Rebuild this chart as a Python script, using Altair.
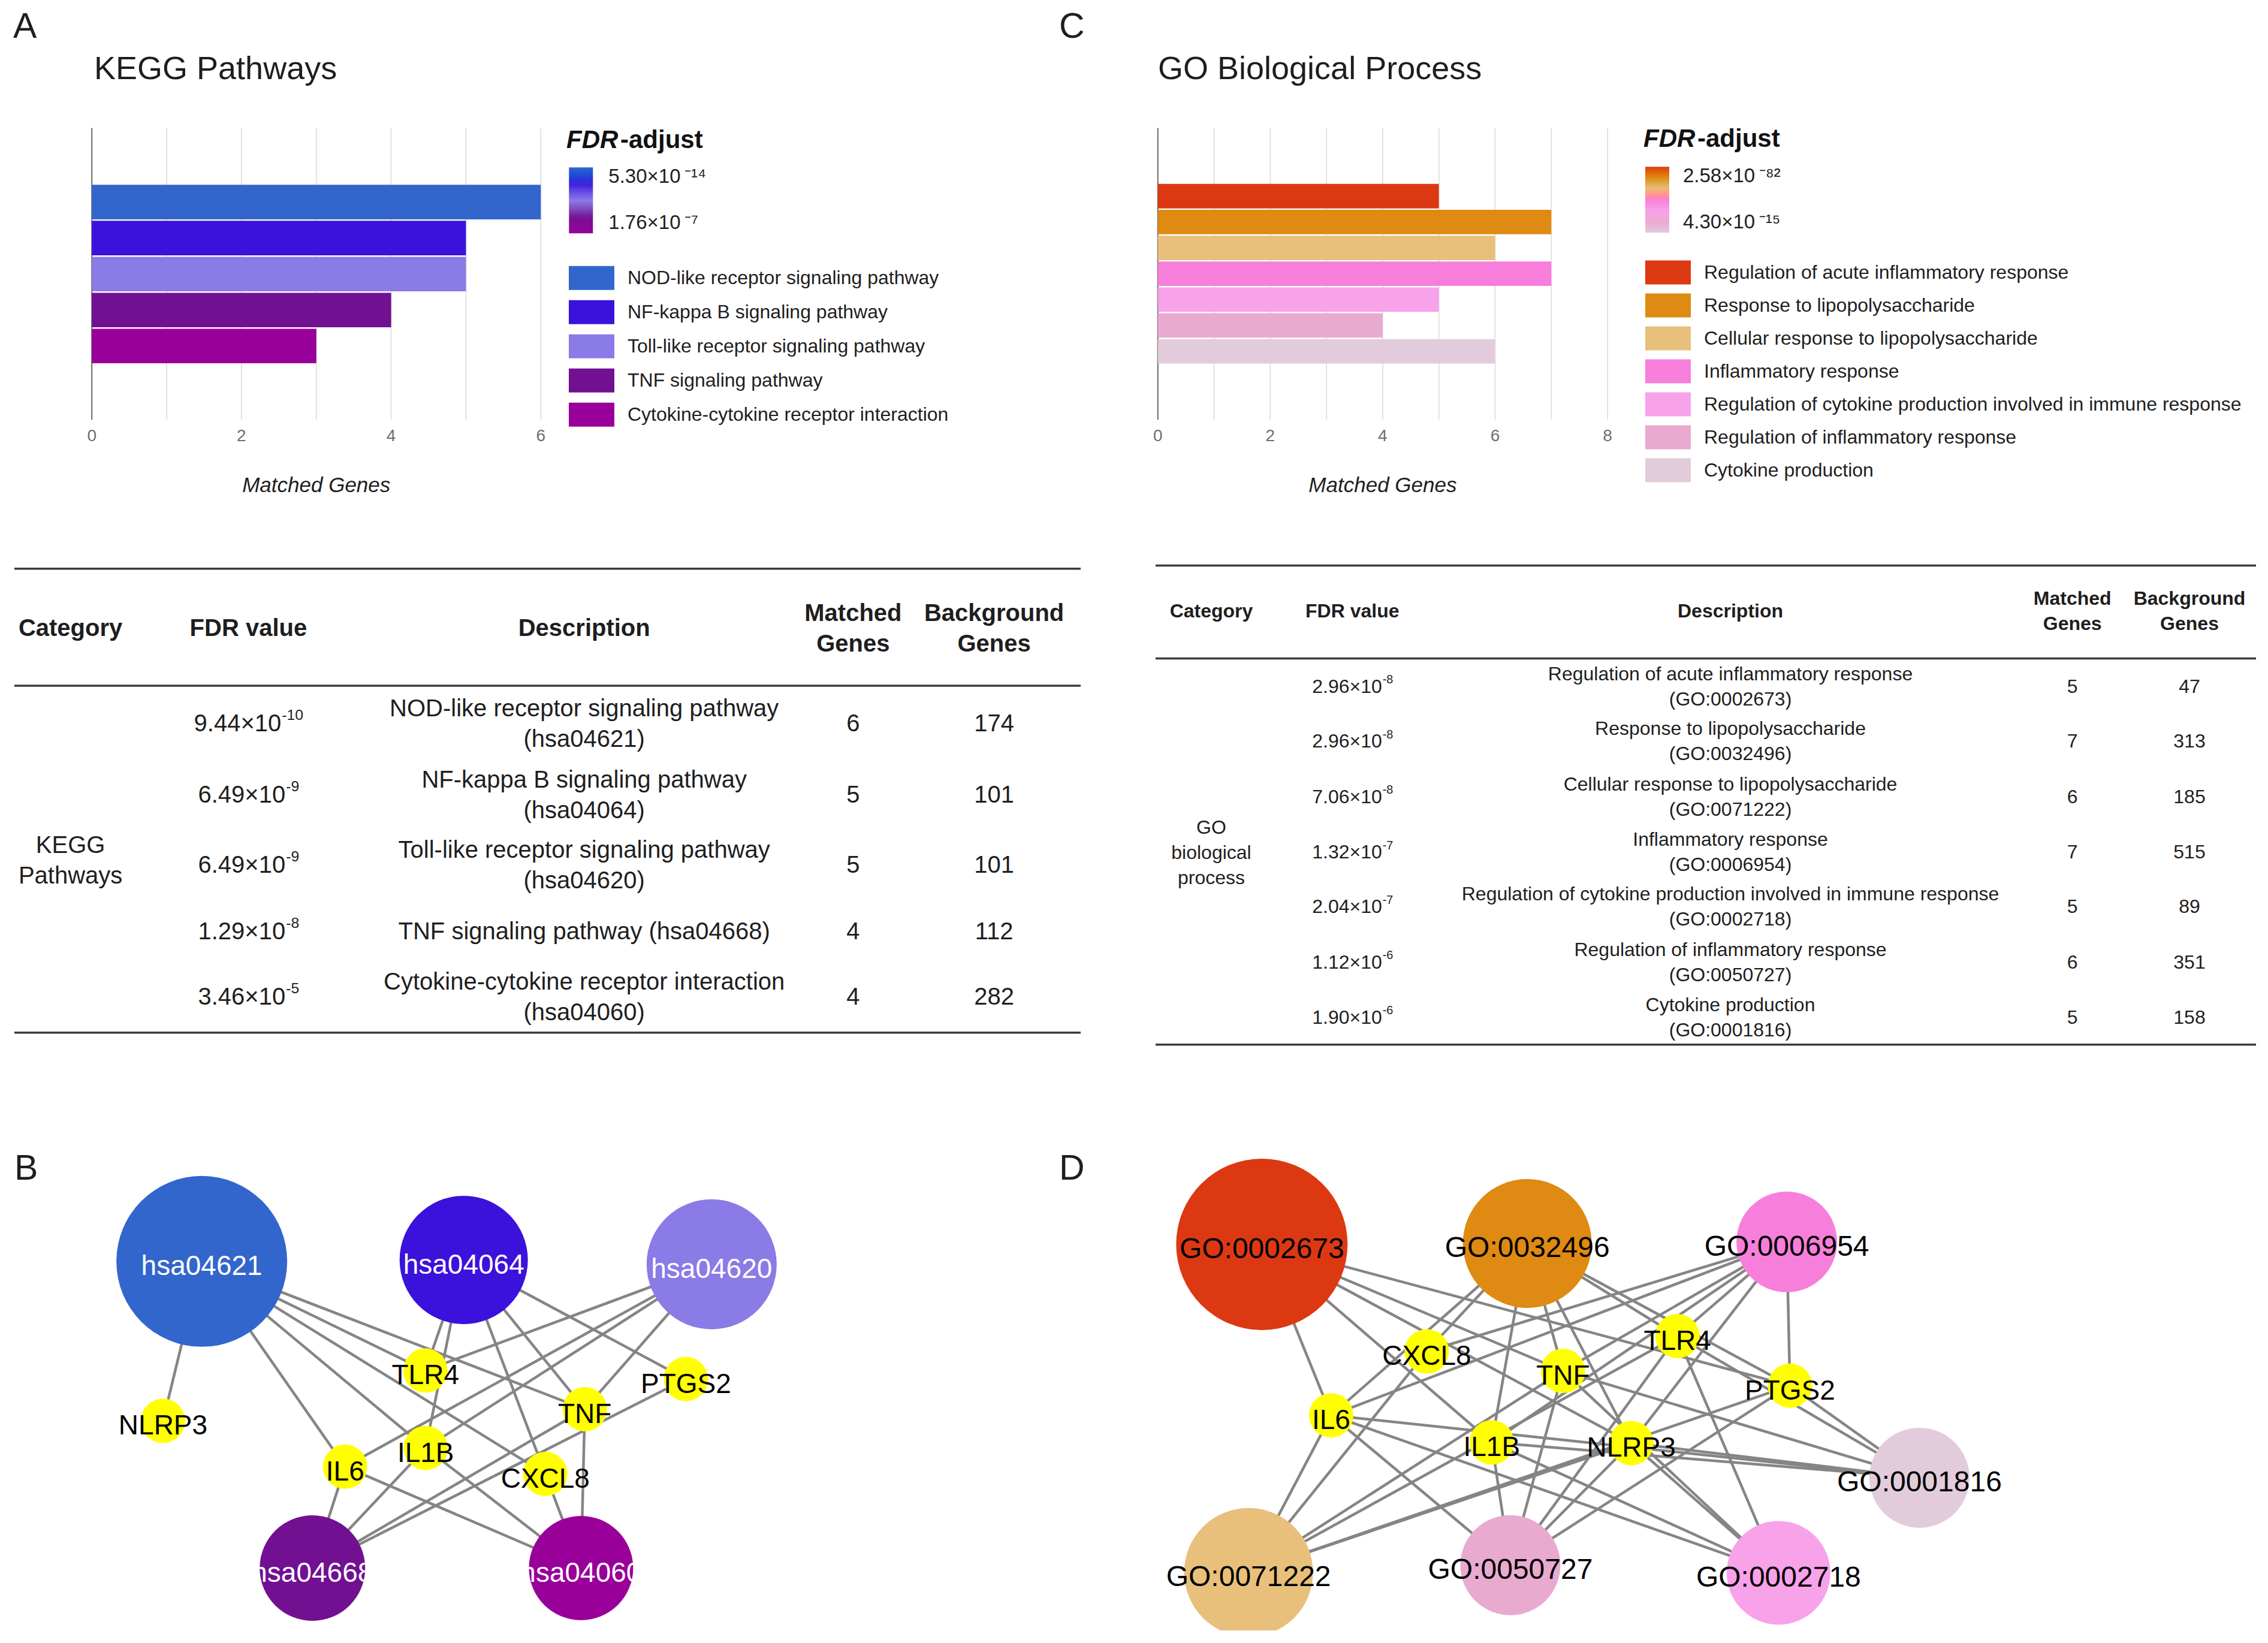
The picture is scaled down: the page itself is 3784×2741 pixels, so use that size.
import numpy as np
import pandas as pd
import altair as alt

# ============================ DATA ============================
kegg_names = ["NOD-like receptor signaling pathway", "NF-kappa B signaling pathway",
              "Toll-like receptor signaling pathway", "TNF signaling pathway",
              "Cytokine-cytokine receptor interaction"]
kegg_ids = ["hsa04621", "hsa04064", "hsa04620", "hsa04668", "hsa04060"]
kegg_bar_genes = [6, 5, 5, 4, 3]
kegg_fdr = [9.44e-10, 6.49e-9, 6.49e-9, 1.29e-8, 3.46e-5]
kegg_matched = [6, 5, 5, 4, 4]
kegg_background = [174, 101, 101, 112, 282]
kegg_fdr_adjust = [5.30e-14, 1.76e-7]
kegg_colors = ["#3366CC", "#3B12DC", "#8A7BE6", "#721092", "#990099"]
kegg_grid = [0, 1, 2, 3, 4, 5, 6]
kegg_ticks = [0, 2, 4, 6]

go_names = ["Regulation of acute inflammatory response", "Response to lipopolysaccharide",
            "Cellular response to lipopolysaccharide", "Inflammatory response",
            "Regulation of cytokine production involved in immune response",
            "Regulation of inflammatory response", "Cytokine production"]
go_ids = ["GO:0002673", "GO:0032496", "GO:0071222", "GO:0006954",
          "GO:0002718", "GO:0050727", "GO:0001816"]
go_bar_genes = [5, 7, 6, 7, 5, 4, 6]
go_fdr = [2.96e-8, 2.96e-8, 7.06e-8, 1.32e-7, 2.04e-7, 1.12e-6, 1.90e-6]
go_matched = [5, 7, 6, 7, 5, 6, 5]
go_background = [47, 313, 185, 515, 89, 351, 158]
go_fdr_adjust = [2.58e-82, 4.30e-15]
go_colors = ["#DC3912", "#DF8A12", "#E8C07C", "#F77FDB", "#F8A2EA", "#E9AAD0", "#E2CCDC"]
go_grid = [0, 1, 2, 3, 4, 5, 6, 7, 8]
go_ticks = [0, 2, 4, 6, 8]

genes = ["NLRP3", "TLR4", "IL1B", "IL6", "TNF", "CXCL8", "PTGS2"]
kegg_gene_sets = {
    "hsa04621": ["NLRP3", "TLR4", "TNF", "CXCL8", "IL1B", "IL6"],
    "hsa04064": ["TLR4", "IL1B", "CXCL8", "TNF", "PTGS2"],
    "hsa04620": ["TLR4", "IL6", "IL1B", "TNF"],
    "hsa04668": ["IL6", "IL1B", "TNF", "PTGS2"],
    "hsa04060": ["IL6", "IL1B", "CXCL8", "TNF"],
}
go_gene_sets = {
    "GO:0002673": ["IL6", "IL1B", "TNF", "PTGS2", "NLRP3"],
    "GO:0032496": ["CXCL8", "IL6", "IL1B", "TNF", "TLR4", "PTGS2", "NLRP3"],
    "GO:0071222": ["IL6", "CXCL8", "TNF", "TLR4", "PTGS2", "NLRP3"],
    "GO:0006954": ["CXCL8", "IL6", "IL1B", "TNF", "TLR4", "PTGS2", "NLRP3"],
    "GO:0002718": ["IL6", "IL1B", "TNF", "TLR4", "NLRP3"],
    "GO:0050727": ["IL6", "IL1B", "TNF", "TLR4", "NLRP3", "PTGS2"],
    "GO:0001816": ["IL6", "IL1B", "TNF", "TLR4", "PTGS2", "NLRP3"],
}
# network layouts (layout units, y downwards)
kegg_net_xy = {
    "hsa04621": (139.5, 92), "hsa04064": (320.6, 91), "hsa04620": (492, 94),
    "hsa04668": (216, 304), "hsa04060": (401.7, 304),
    "NLRP3": (112.7, 202.2), "TLR4": (294.1, 167.4), "IL1B": (294.3, 221),
    "IL6": (238.6, 233.9), "TNF": (404.3, 194.2), "CXCL8": (377, 238.9), "PTGS2": (474.2, 173.3),
}
go_net_xy = {
    "GO:0002673": (122.4, 80.2), "GO:0032496": (305.9, 79.6), "GO:0006954": (485.3, 78.5),
    "GO:0001816": (577, 241.6), "GO:0071222": (113.2, 307), "GO:0050727": (294.2, 302),
    "GO:0002718": (479.6, 307.3),
    "CXCL8": (236.4, 154.2), "TLR4": (409.7, 143.6), "TNF": (330.6, 167.7), "PTGS2": (487.5, 177.9),
    "IL6": (170.3, 198.4), "IL1B": (281.3, 217.1), "NLRP3": (377.8, 217.6),
}

# ============================ STYLE / LAYOUT ============================
W, H = 3760, 2712
S = 3784 / 1568
FONT = "Liberation Sans"
INK = "#1e1e1e"
GENE_COLOR = "#FFFF00"
EDGE_COLOR = "#858585"
kegg_node_diam = {"hsa04621": 285, "hsa04064": 214, "hsa04620": 217, "hsa04668": 176, "hsa04060": 174}
go_node_diam = {"GO:0002673": 286, "GO:0032496": 215, "GO:0006954": 168, "GO:0001816": 167,
                "GO:0071222": 215, "GO:0050727": 167, "GO:0002718": 173}
GENE_DIAM = 74
CHAR_W = {".": 0.278, "\u00d7": 0.584, "-": 0.333}


def P(d):
    return d * S - 8


PX = alt.Scale(domain=[0, 3784], range=[-8, 3776])
PY = alt.Scale(domain=[0, 2741], range=[-8, 2733])

SUP = str.maketrans("-0123456789", "\u207b\u2070\u00b9\u00b2\u00b3\u2074\u2075\u2076\u2077\u2078\u2079")


def split_sci(v):
    m, e = f"{v:.2e}".split("e")
    return f"{m}\u00d710", str(int(e))


def sci(v, sep=""):
    b, e = split_sci(v)
    return f"{b}{sep}{e.translate(SUP)}"


def text_w(s, fs):
    return fs * sum(CHAR_W.get(c, 0.556) for c in s)


def text_layer(df, **mark):
    return alt.Chart(df).mark_text(font=FONT, lineBreak="\n", **mark).encode(
        x=alt.X("px:Q", scale=PX, axis=None),
        y=alt.Y("py:Q", scale=PY, axis=None),
        text=alt.Text("t:N"),
    )


def centred(t, y, lh):
    return y - (t.count("\n")) * lh / 2


# ---------------- page annotations ----------------
letters = pd.DataFrame({"t": ["A", "C", "B", "D"], "px": [22, 1767, 24, 1767], "py": [63, 63, 1968, 1968]})
titles = pd.DataFrame({"t": ["KEGG Pathways", "GO Biological Process"], "px": [157, 1932], "py": [132, 132]})
fdr_it = pd.DataFrame({"t": ["FDR", "FDR"], "px": [945, 2742], "py": [247, 245]})
fdr_adj = pd.DataFrame({"t": ["-adjust", "-adjust"], "px": [1035, 2832], "py": [247, 245]})

page_layers = [
    text_layer(letters, align="left", baseline="alphabetic", fontSize=59, color=INK),
    text_layer(titles, align="left", baseline="alphabetic", fontSize=54, color=INK),
    text_layer(fdr_it, align="left", baseline="alphabetic", fontSize=42, fontWeight="bold",
               fontStyle="italic", color="#111111"),
    text_layer(fdr_adj, align="left", baseline="alphabetic", fontSize=42, fontWeight="bold", color="#111111"),
]

# ---------------- tables ----------------
HEAD = ["Category", "FDR value", "Description", "Matched\nGenes", "Background\nGenes"]


def table(names, ids, fdr, matched, background, cat_label, col_x, head_y, row_y, cat_y,
          rules_y, rule_x, fs, lh, single_max):
    head = pd.DataFrame({"t": HEAD, "px": col_x, "py": [centred(t, head_y, lh) for t in HEAD]})
    rows, bases, exps = [], [], []
    efs = 0.62 * fs
    for i, (n, gid) in enumerate(zip(names, ids)):
        desc = f"{n} ({gid})" if len(n) + len(gid) <= single_max else f"{n}\n({gid})"
        for c, t in zip([2, 3, 4], [desc, str(matched[i]), str(background[i])]):
            rows.append({"t": t, "px": col_x[c], "py": centred(t, row_y[i], lh)})
        b, e = split_sci(fdr[i])
        bw, ew = text_w(b, fs), text_w(e, efs)
        xs = col_x[1] - (bw + ew) / 2 + bw
        bases.append({"t": b, "px": xs, "py": row_y[i]})
        exps.append({"t": e, "px": xs + 1, "py": row_y[i] - 0.36 * fs})
    rows.append({"t": cat_label, "px": col_x[0], "py": centred(cat_label, cat_y, lh)})
    rules = pd.DataFrame({"x0": [rule_x[0]] * 3, "x1": [rule_x[1]] * 3, "py": rules_y})
    return [
        alt.Chart(rules).mark_rule(color="#3c3c3c", strokeWidth=3.5).encode(
            x=alt.X("x0:Q", scale=PX, axis=None), x2="x1:Q",
            y=alt.Y("py:Q", scale=PY, axis=None)),
        text_layer(head, fontSize=fs, fontWeight="bold", lineHeight=lh, color=INK),
        text_layer(pd.DataFrame(rows), fontSize=fs, lineHeight=lh, color=INK),
        text_layer(pd.DataFrame(bases), fontSize=fs, align="right", color=INK),
        text_layer(pd.DataFrame(exps), fontSize=efs, align="left", color=INK),
    ]


page_layers += table(kegg_names, kegg_ids, kegg_fdr, kegg_matched, kegg_background, "KEGG\nPathways",
                     [117.6, 414.4, 974.7, 1423.4, 1658.6], 1049, [1208, 1327, 1444, 1555, 1664], 1436.6,
                     [948.8, 1143.9, 1722.8], [24, 1803], 40, 51, 32)
page_layers += table(go_names, go_ids, go_fdr, go_matched, go_background, "GO\nbiological\nprocess",
                     [2021, 2256.3, 2887, 3457.7, 3653], 1020,
                     [1145.8, 1237.3, 1330, 1422.4, 1513.3, 1606, 1698], 1423,
                     [943.4, 1098.4, 1742.8], [1928, 3764], 32, 42, 0)

page = alt.layer(*page_layers)


# ---------------- bar panels ----------------
def bar_panel(names, vals, colors, grid_vals, tick_vals, xr, yr, pad_inner, frame,
              fdr_adj_vals, grad_xy, grad_label_off, sym_xy, row_pad):
    dom = [0, grid_vals[-1]]
    xs = alt.Scale(domain=dom, range=xr, nice=False)
    grid = alt.Chart(pd.DataFrame({"g": grid_vals})).mark_rule(strokeWidth=2).encode(
        x=alt.X("g:Q", scale=xs, axis=None),
        y=alt.value(frame[0]), y2=alt.value(frame[1]),
        color=alt.condition("datum.g == 0", alt.value("#6a6a6a"), alt.value("#e2e2e2")),
    )
    tick_df = pd.DataFrame({"g": tick_vals, "lab": [str(v) for v in tick_vals]})
    ticks = alt.Chart(tick_df).mark_text(font=FONT, fontSize=28, color="#6e6e6e", baseline="middle").encode(
        x=alt.X("g:Q", scale=xs, axis=None), y=alt.value(frame[1] + 28), text="lab:N")
    xtitle = alt.Chart(pd.DataFrame({"g": [dom[1] / 2], "lab": ["Matched Genes"]})).mark_text(
        font=FONT, fontSize=35, fontStyle="italic", color=INK, baseline="middle").encode(
        x=alt.X("g:Q", scale=xs, axis=None), y=alt.value(frame[1] + 110), text="lab:N")
    df = pd.DataFrame({"name": names, "genes": vals})
    bars = alt.Chart(df).mark_bar().encode(
        x=alt.X("genes:Q", scale=xs, axis=None),
        y=alt.Y("name:N", sort=names,
                scale=alt.Scale(domain=names, range=yr, paddingInner=pad_inner, paddingOuter=0.02),
                axis=None),
        color=alt.Color("name:N", scale=alt.Scale(domain=names, range=colors),
                        legend=alt.Legend(orient="none", legendX=sym_xy[0], legendY=sym_xy[1],
                                          title=None, padding=0, symbolType="M-1,-1H2.8V1H-1Z",
                                          symbolSize=1600, symbolStrokeWidth=0, symbolOpacity=1,
                                          labelFont=FONT, labelFontSize=32, labelColor=INK,
                                          labelOffset=58, rowPadding=row_pad, labelLimit=1500)),
    )
    nl = [-np.log10(v) for v in fdr_adj_vals]
    lo, hi = min(nl), max(nl)
    top_lab = sci(fdr_adj_vals[int(np.argmax(nl))], "\u2009")
    bot_lab = sci(fdr_adj_vals[int(np.argmin(nl))], "\u2009")
    mid = (lo + hi) / 2
    grad = alt.Chart(pd.DataFrame({"v": nl})).transform_filter("datum.v < 0").mark_circle(opacity=1).encode(
        color=alt.Color("v:Q", scale=alt.Scale(domain=[lo, hi], range=colors[::-1]),
                        legend=alt.Legend(type="gradient", orient="none", direction="vertical",
                                          legendX=grad_xy[0], legendY=grad_xy[1], title=None,
                                          padding=0, gradientLength=110, gradientThickness=40,
                                          gradientStrokeWidth=0, gradientOpacity=1, values=[lo, hi],
                                          labelExpr=f"datum.value > {mid} ? '{top_lab}' : '{bot_lab}'",
                                          labelFont=FONT, labelFontSize=33, labelColor=INK,
                                          labelOffset=grad_label_off, labelOverlap=False,
                                          labelLimit=600)),
    )
    return alt.layer(grid, bars, ticks, xtitle, grad).resolve_scale(color="independent")


kegg_panel = bar_panel(kegg_names, kegg_bar_genes, kegg_colors, kegg_grid, kegg_ticks,
                       [145.2, 894.3], [299.1, 599.3], 0.04, [205.5, 692.3],
                       kegg_fdr_adjust, [941.3, 271.3], 26, [941, 435.7], 17)
go_panel = bar_panel(go_names, go_bar_genes, go_colors, go_grid, go_ticks,
                     [1923.8, 2674], [298, 599.3], 0.055, [205.5, 692.3],
                     go_fdr_adjust, [2737, 270.3], 23, [2737, 426.6], 15)


# ---------------- networks ----------------
def network(ids, colors, gene_sets, xy, diam, origin, term_label_color, term_fs):
    xs = alt.Scale(domain=[0, 700], range=[P(origin[0]), P(origin[0] + 700)])
    ys = alt.Scale(domain=[0, 360], range=[P(origin[1]), P(origin[1] + 360)])
    edges = []
    for t in ids:
        for g in gene_sets[t]:
            edges.append({"x": xy[g][0], "y": xy[g][1], "x2": xy[t][0], "y2": xy[t][1]})
    edges = pd.DataFrame(edges)
    nodes = pd.DataFrame(
        [{"id": t, "x": xy[t][0], "y": xy[t][1], "d2": diam[t] ** 2, "col": c,
          "lc": term_label_color, "kind": "term"} for t, c in zip(ids, colors)] +
        [{"id": g, "x": xy[g][0], "y": xy[g][1], "d2": GENE_DIAM ** 2, "col": GENE_COLOR,
          "lc": "#000000", "kind": "gene"} for g in genes])
    X = alt.X("x:Q", scale=xs, axis=None)
    Y = alt.Y("y:Q", scale=ys, axis=None)
    e = alt.Chart(edges).mark_rule(color=EDGE_COLOR, strokeWidth=4.5).encode(x=X, y=Y, x2="x2:Q", y2="y2:Q")
    n = alt.Chart(nodes).mark_circle(opacity=1, strokeWidth=0).encode(
        x=X, y=Y, size=alt.Size("d2:Q", scale=None), color=alt.Color("col:N", scale=None))
    lt = alt.Chart(nodes).transform_filter("datum.kind == 'term'").mark_text(
        font=FONT, fontSize=term_fs, dy=9).encode(
        x=X, y=Y, text="id:N", color=alt.Color("lc:N", scale=None))
    lg = alt.Chart(nodes).transform_filter("datum.kind == 'gene'").mark_text(
        font=FONT, fontSize=46, dy=9).encode(
        x=X, y=Y, text="id:N", color=alt.Color("lc:N", scale=None))
    return alt.layer(e, n, lt, lg)


net_b = network(kegg_ids, kegg_colors, kegg_gene_sets, kegg_net_xy, kegg_node_diam, (0, 780), "#FFFFFF", 46)
net_d = network(go_ids, go_colors, go_gene_sets, go_net_xy, go_node_diam, (750, 780), "#000000", 48)

chart = alt.layer(page, kegg_panel, go_panel, net_b, net_d).resolve_scale(
    x="independent", y="independent", color="independent", size="independent"
).properties(
    width=W, height=H, padding=0, autosize=alt.AutoSizeParams(type="none")
).configure_view(strokeWidth=0)

chart.save("out.html", embed_options={"renderer": "svg", "actions": False})
